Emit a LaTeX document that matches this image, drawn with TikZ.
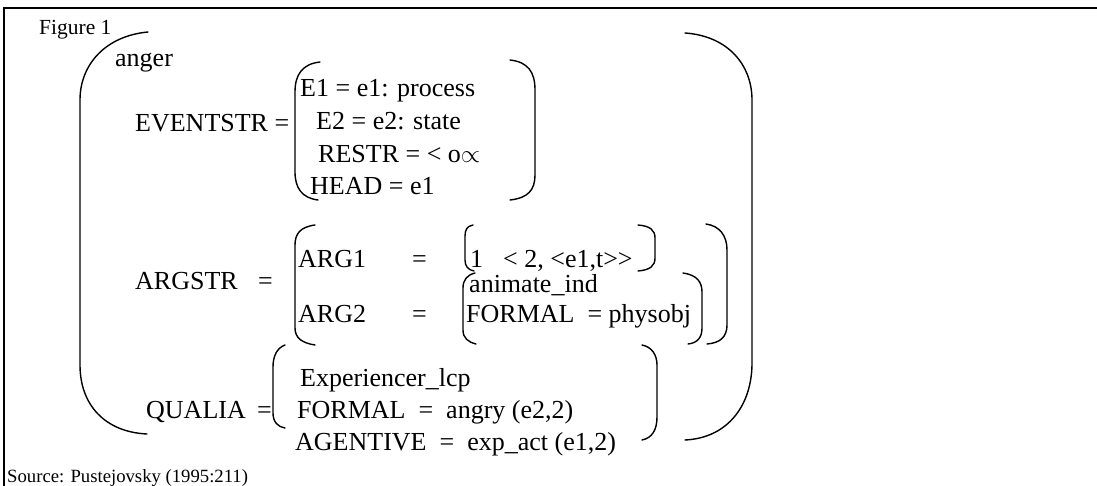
\documentclass[tikz,border=0pt]{standalone}
\usepackage{fontspec}
\setmainfont{Liberation Serif}
\begin{document}
\begin{tikzpicture}[x=1pt,y=-1pt,
  txt/.style={anchor=base west,inner sep=0pt,font=\fontsize{26}{30}\selectfont},
  small/.style={anchor=base west,inner sep=0pt,font=\fontsize{21.5}{26}\selectfont},
  src/.style={anchor=base west,inner sep=0pt,font=\fontsize{18.7}{23}\selectfont},
  brk/.style={line width=1.4pt,line cap=round},
  frame/.style={line width=1.6pt}]
\useasboundingbox (0,0) rectangle (1097,486);
\draw[frame] (4,486) -- (4,8) -- (1097,8);
% big brackets
\draw[brk] (148,32) .. controls (105,36) and (80,65) .. (80,100) -- (80,365) .. controls (80,405) and (105,432) .. (147,434);
\draw[brk] (685,33) .. controls (728,36) and (752,65) .. (752,100) -- (752,363) .. controls (752,405) and (728,438) .. (685,440);
% EVENTSTR brackets
\draw[brk] (320,62) .. controls (302,64) and (295,75) .. (295,92) -- (295,172) .. controls (295,188) and (302,198) .. (318,200);
\draw[brk] (510,60) .. controls (528,62) and (535,72) .. (535,90) -- (535,175) .. controls (535,190) and (528,198) .. (510,200);
% ARGSTR brackets
\draw[brk] (315,225) .. controls (300,227) and (295,234) .. (295,245) -- (295,328) .. controls (295,338) and (302,343) .. (315,345);
\draw[brk] (473,225) .. controls (467,226) and (465,230) .. (465,236) -- (465,260) .. controls (465,266) and (468,270) .. (474,271);
\draw[brk] (638,225) .. controls (650,226) and (655,230) .. (655,238) -- (655,258) .. controls (655,266) and (650,270) .. (638,271);
\draw[brk] (475,273) .. controls (467,275) and (463,280) .. (463,288) -- (463,330) .. controls (463,338) and (468,342) .. (476,344);
\draw[brk] (683,273) .. controls (697,275) and (702,282) .. (702,292) -- (702,328) .. controls (702,338) and (697,343) .. (688,344);
\draw[brk] (706,224) .. controls (720,226) and (727,236) .. (727,250) -- (727,325) .. controls (727,337) and (720,343) .. (707,344);
% QUALIA brackets
\draw[brk] (285,345) .. controls (277,348) and (273,356) .. (273,367) -- (273,413) .. controls (273,422) and (278,427) .. (285,428);
\draw[brk] (642,345) .. controls (652,347) and (657,355) .. (657,365) -- (657,417) .. controls (657,430) and (652,438) .. (642,440);
% texts
\node[small] (fig) at (39,35) {Figure 1};
\node[txt] (anger) at (115,67) {anger};
\node[txt] (evs) at (135,132) {EVENTSTR =};
\node[txt] (e1) at (300,97) {E1 = e1: process};
\node[txt] (e2) at (316,130) {E2 = e2: state};
\node[txt] (restr) at (318,163) {RESTR = < o$\propto$};
\node[txt] (head) at (310,195) {HEAD = e1};
\node[txt] (args) at (135,290) {ARGSTR};
\node[txt] (argseq) at (258,290) {=};
\node[txt] (arg1) at (298,268) {ARG1};
\node[txt] (arg1eq) at (412,268) {=};
\node[txt] (one) at (470,268) {1};
\node[txt] (tuple) at (503,268) {< 2, <e1,t>{}>};
\node[txt] (anim) at (469,292) {animate\_ind};
\node[txt] (arg2) at (298,322) {ARG2};
\node[txt] (arg2eq) at (412,322) {=};
\node[txt] (formal) at (466,322) {FORMAL\ \ = physobj};
\node[txt] (qualia) at (146,418) {QUALIA};
\node[txt] (qualiaeq) at (257,418) {=};
\node[txt] (exp) at (300,386) {Experiencer\_lcp};
\node[txt] (qform) at (297,418) {FORMAL\ \ =\ \ angry (e2,2)};
\node[txt] (agent) at (295,450) {AGENTIVE\ \ =\ \ exp\_act (e1,2)};
\node[src] (source) at (7,482) {Source: Pustejovsky (1995:211)};
\end{tikzpicture}
\end{document}
